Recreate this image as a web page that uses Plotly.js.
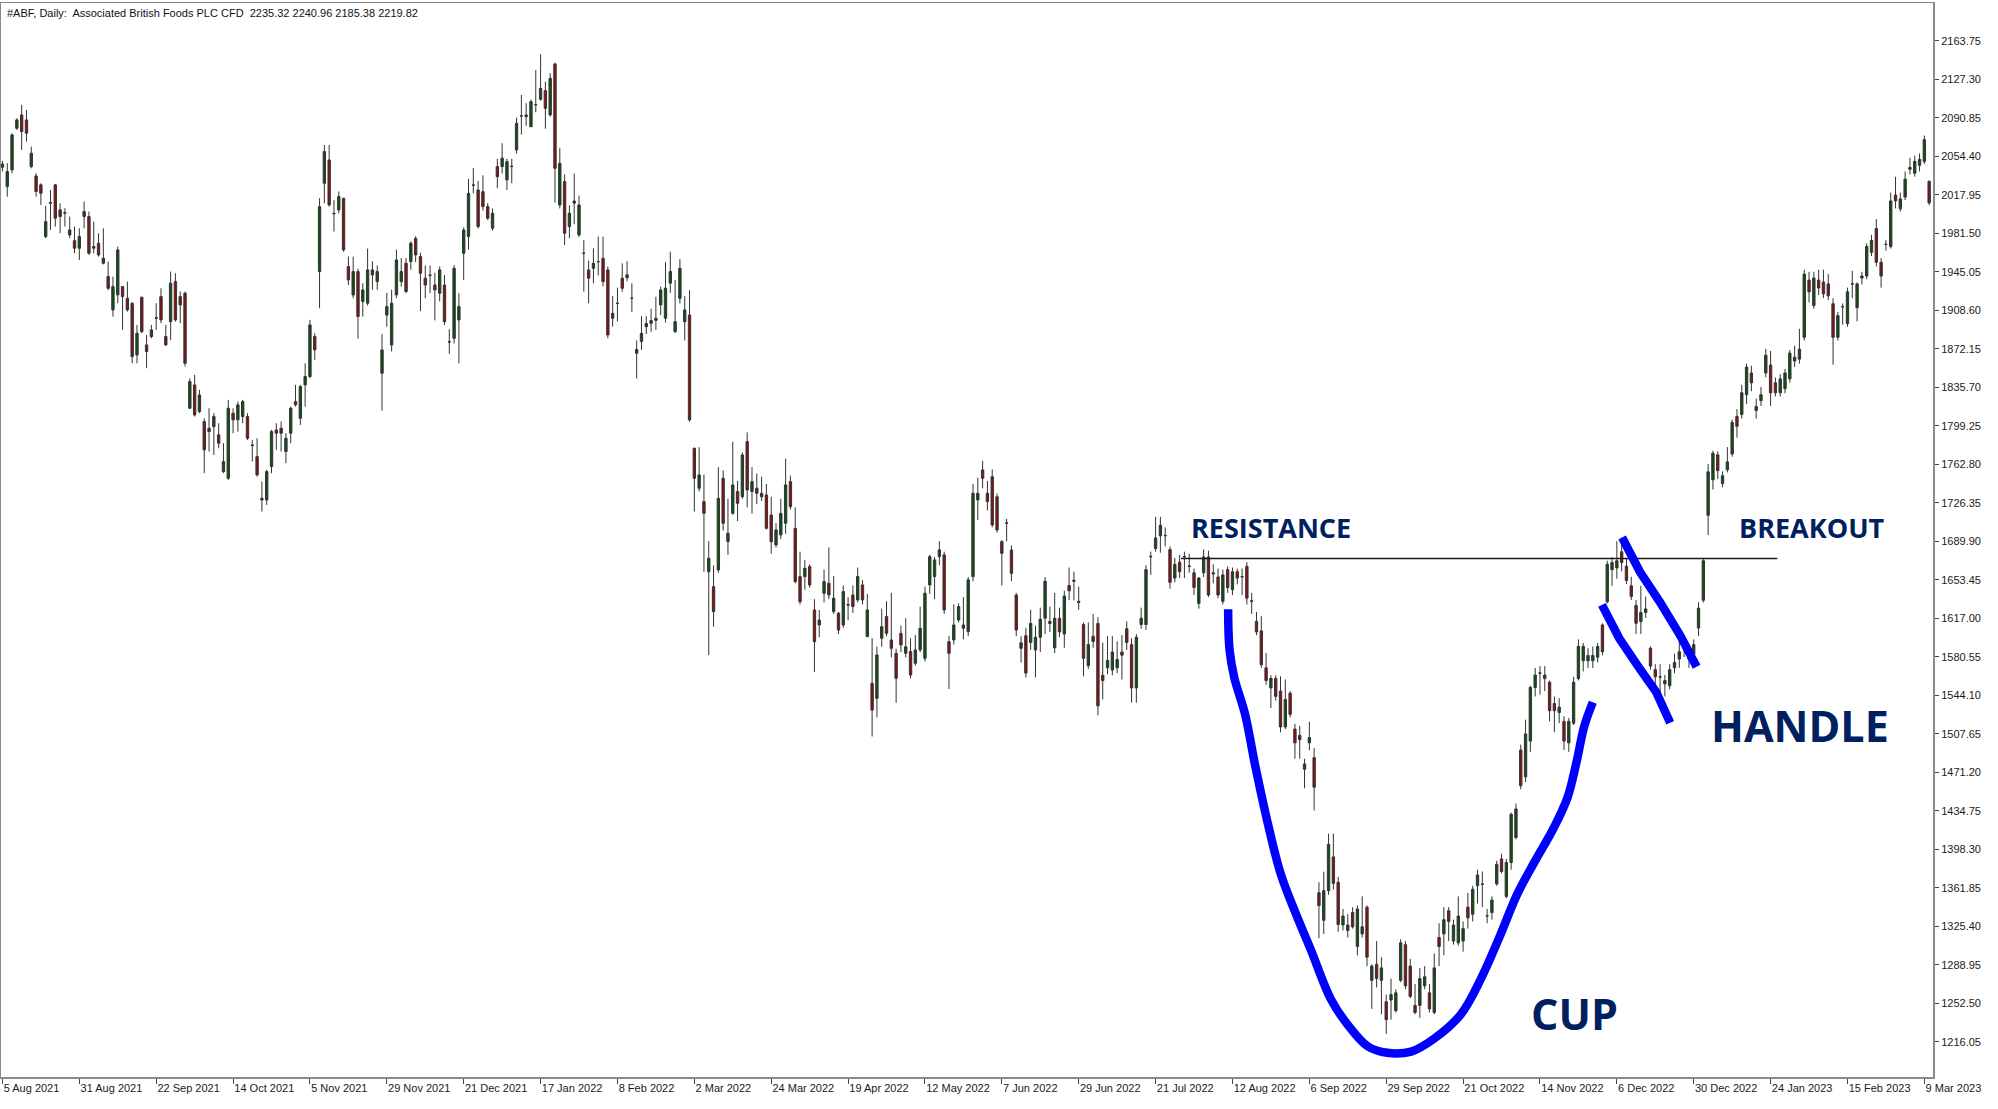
<!DOCTYPE html>
<html><head><meta charset="utf-8">
<script src="https://cdn.plot.ly/plotly-3.0.1.min.js"></script>
<style>html,body{margin:0;padding:0;background:#fff;}#chart{width:1998px;height:1109px;}</style>
</head><body><div id="chart"></div>
<script>
// ---- OHLC values (daily bars, Aug 2021 – Mar 2023) ----
const opens = [
2044,2025.7,2041.5,2080.9,2093.5,2088.8,2044.6,2035.8,2027.3,1978.3,
2009.9,2027.3,2003.6,2000.4,1984.6,1974.5,1967.3,1997.3,1997.3,1968.9,
1972.0,1953.1,1940.5,1908.9,1923.1,1931.0,1920.0,1915.2,1866.3,1920.9,
1875.8,1883.7,1901.0,1921.5,1883.7,1897.9,1935.7,1921.5,1924.7,1815.8,
1837.9,1812.6,1803.2,1796.9,1798.4,1790.6,1755.8,1749.5,1811.1,1804.8,
1807.9,1807.9,1781.1,1770.0,1730.5,1729.0,1760.6,1795.3,1796.9,1774.8,
1792.2,1822.1,1806.3,1837.9,1845.8,1883.7,1945.2,2028.8,2050.9,2000.4,
2003.6,2014.6,1949.9,1923.1,1945.2,1916.8,1915.2,1946.8,1935.7,1848.9,
1904.1,1875.7,1923.1,1935.7,1953.1,1954.7,1976.7,1959.4,1938.9,1942.0,
1932.5,1924.7,1932.5,1878.9,1882.0,1899.4,1962.5,1978.3,2027.2,2022.5,
2020.9,2006.7,1986.2,2044.6,2044.6,2032.0,2044.6,2060.4,2092.5,2093.5,
2082.4,2103.0,2108.3,2116.5,2093.5,2141.8,2008.3,2030.4,1987.8,2012.0,
1979.9,1962.5,1946.8,1948.3,1954.6,1957.8,1946.8,1901.0,1915.0,1938.9,
1939.4,1919.9,1867.9,1878.9,1893.0,1898.8,1899.0,1913.6,1901.0,1934.2,
1888.4,1919.9,1897.8,1904.1,1777.9,1740.0,1727.4,1661.0,1646.9,1662.7,
1749.5,1689.5,1716.3,1736.9,1732.1,1784.2,1736.9,1740.0,1735.3,1733.7,
1714.7,1686.4,1695.8,1706.9,1746.3,1702.1,1656.4,1656.4,1665.9,1624.8,
1610.6,1640.6,1650.1,1623.2,1621.7,1610.6,1630.0,1639.0,1634.3,1648.5,
1599.6,1555.4,1541.2,1598.0,1618.5,1596.4,1583.8,1602.7,1583.8,1585.4,
1574.3,1587.0,1579.0,1648.5,1656.4,1675.3,1676.9,1594.8,1596.4,1615.3,
1610.6,1604.3,1656.4,1729.0,1757.4,1735.3,1751.0,1732.0,1689.5,1707.0,
1681.6,1639.0,1588.5,1600.4,1594,1587,1599,1617,1614,1589,
1617,1602,1648,1653,1633,1611,1572,1600,1612,1563,
1570,1568,1570,1585,1607,1592,1551,1611,1611,1675,
1683,1695,1695,1682,1655,1670,1675,1666,1660,1631,
1660,1675,1660,1656,1633,1663,1644,1661,1656,1666,
1633,1614,1605,1570,1551,1560,1548,1514,1546,1512,
1506,1474,1499,1485,1357,1331,1359,1391,1367,1326.5,
1321.4,1338.3,1306.2,1318.1,1343.4,1274.1,1289.3,1274.1,1253.8,1255.5,
1245.4,1274.1,1307.9,1287.6,1250.4,1250.4,1269,1262.3,1243.7,1314.7,
1318.1,1340,1311.3,1309.6,1311.3,1343.4,1336.7,1363.7,1365.4,1335,
1338.3,1365.4,1389.1,1353.6,1385.7,1409.4,1492.2,1466.8,1500.7,1551.4,
1564.9,1563.2,1556.4,1536.2,1527.7,1519.3,1499,1517.6,1559.8,1576.7,
1576.7,1576.7,1580.1,1610.6,1632.5,1663,1664.6,1679.9,1666.3,1647.7,
1629.1,1613.9,1622.4,1588.6,1568.3,1561.5,1558.1,1553.1,1570,1578.4,
1592,1578.4,1583,1607.7,1634,1714.4,1748.1,1771.7,1744.4,1757.5,
1772.5,1808,1809.9,1828.6,1849.2,1817.4,1823,1849.2,1856.7,1839.9,
1830.5,1834.3,1843.6,1864.2,1862.3,1883,1937.2,1913,1937.2,1935.3,
1933.5,1914.7,1883,1911.8,1896,1933.5,1911,1939.1,1941,1963.4,
1985.9,1954,1970.9,1969,2017.7,2004.6,2015.8,2043.9,2038.3,2045.8,
2049.5,2030.8];
const highs = [
2050,2047.8,2076.2,2090.4,2103.0,2098.3,2063.5,2038.3,2028.8,2007.4,
2022.5,2028.0,2009.9,2005.2,1997.3,1987.8,1986.2,2011.5,2002.0,1992.5,
1981.5,1986.2,1954.7,1940.5,1968.9,1931.5,1935.7,1916.0,1894.7,1921.5,
1885.2,1894.7,1915.2,1929.4,1894.7,1945.2,1943.6,1926.3,1926.3,1844.2,
1847.4,1833.2,1806.3,1815.8,1811.1,1801.6,1782.7,1823.7,1815.8,1822.1,
1823.7,1811.1,1785.8,1787.4,1746.4,1757.4,1795.3,1801.6,1803.2,1792.2,
1817.4,1837.9,1837.9,1858.4,1899.4,1886.8,2014.6,2065.1,2065.1,2013.1,
2021.0,2015.0,1959.4,1959.4,1948.0,1934.2,1967.0,1955.0,1951.0,1886.0,
1925.0,1928.0,1966.0,1958.0,1958.0,1974.0,1978.5,1963.0,1951.0,1951.0,
1944.0,1950.0,1942.0,1890.6,1951.4,1924.7,1987.0,2033.0,2043.3,2031.0,
2036.4,2010.0,2005.0,2052.0,2066.7,2052.0,2052.0,2091.0,2112.4,2104.6,
2108.0,2136.1,2151.0,2125.0,2133.0,2143.0,2062.3,2037.3,2008.0,2038.0,
2017.1,1975.0,1955.5,1967.2,1978.3,1978.3,1950.0,1922.0,1930.0,1953.0,
1955.0,1934.0,1880.0,1903.0,1903.0,1910.0,1921.4,1931.0,1954.0,1964.0,
1937.3,1957.0,1922.0,1927.6,1778.5,1778.9,1753.0,1690.0,1667.0,1760.0,
1757.0,1730.0,1784.0,1747.0,1774.0,1793.0,1760.0,1754.0,1751.0,1744.0,
1732.0,1707.0,1730.0,1768.0,1752.0,1722.0,1680.0,1672.0,1668.0,1635.0,
1624.8,1663.0,1684.0,1657.0,1623.0,1648.0,1637.0,1648.0,1665.0,1653.0,
1640.0,1598.0,1590.0,1626.0,1633.0,1641.0,1588.0,1610.0,1617.0,1598.0,
1601.0,1628.0,1647.0,1677.0,1675.0,1690.0,1680.0,1600.0,1630.0,1631.0,
1637.0,1656.0,1744.0,1750.0,1766.0,1747.0,1758.0,1735.0,1691.0,1711.0,
1686.0,1641.0,1600,1608,1625,1610,1627,1656,1628,1641,
1627,1643,1665,1661,1647,1613,1613,1621,1618,1594,
1600,1600,1595,1601,1614,1598,1602,1627,1667,1680,
1713,1713,1703,1685,1674,1677,1680,1678,1664,1656,
1682,1681,1668,1664,1663,1666,1665,1664,1664,1670,
1641,1623,1619,1584,1563,1563,1562,1559,1548,1517,
1515,1484,1519,1494,1367,1377,1413,1413,1372,1341.7,
1336.7,1343.4,1345.1,1353.6,1345.1,1289.3,1311.3,1296.1,1260.6,1275.8,
1265.7,1313,1311.3,1294.4,1270.7,1285.9,1287.6,1270.7,1299.5,1328.2,
1343.4,1343.4,1331.6,1353.6,1329.9,1357,1363.7,1378.9,1377.2,1341.7,
1353.6,1387.4,1394.1,1389.1,1433,1441.5,1497.3,1520.9,1553.1,1570,
1571.7,1571.7,1558.1,1542.9,1541.2,1524.3,1522.6,1561.5,1597,1593.6,
1588.6,1590.3,1593.6,1612.2,1671.4,1674.8,1690,1693.4,1673.1,1656.2,
1634.2,1647.7,1637.6,1590.3,1573.4,1573.4,1563.2,1573.4,1583.5,1595.3,
1597,1592,1597,1632.1,1673,1763.1,1775.5,1775,1756,1779,
1805,1815,1838,1858,1856,1825,1836,1872,1870,1845,
1848,1853,1871,1875,1891,1947,1945,1945,1947,1947,
1943,1920,1907,1915,1930,1946,1935,1945,1972,1980,
1995,1958,1975,2020,2035,2020,2040,2053,2055,2057,
2074,2031];
const lows = [
2040,2016.2,2038.3,2079.3,2060.4,2068.3,2043.0,2016.2,2008.3,1977.0,
1984.6,1987.8,1981.5,1987.8,1976.8,1962.5,1956.2,1986.2,1961.0,1962.5,
1959.4,1952.0,1927.6,1902.6,1915.2,1890.0,1907.3,1858.4,1858.4,1886.8,
1853.7,1882.1,1890.0,1896.3,1875.0,1880.5,1897.9,1896.3,1855.3,1815.0,
1807.9,1811.1,1754.3,1774.8,1771.6,1777.9,1754.3,1748.0,1792.2,1793.7,
1801.6,1785.8,1765.3,1751.1,1718.0,1724.3,1754.3,1776.4,1774.8,1763.7,
1782.7,1817.4,1800.0,1817.4,1844.2,1861.6,1910.5,2009.9,2006.7,1983.1,
2000.4,1964.0,1932.5,1920.0,1881.7,1902.6,1913.0,1928.0,1928.0,1813.6,
1893.0,1869.5,1920.0,1931.0,1924.7,1947.0,1954.0,1907.7,1919.9,1924.7,
1899.0,1917.0,1894.6,1867.3,1877.0,1858.4,1937.3,1966.0,2019.3,1986.0,
2003.0,1994.0,1984.0,2024.1,2038.0,2022.5,2028.8,2057.0,2075.0,2083.0,
2082.0,2096.0,2107.0,2080.4,2092.0,2010.5,2005.0,1970.4,1976.8,1990.0,
1978.0,1926.3,1915.2,1934.2,1941.6,1931.0,1882.0,1893.0,1898.0,1926.0,
1936.0,1907.0,1844.0,1871.0,1886.0,1888.0,1890.0,1904.0,1897.0,1925.0,
1887.0,1915.0,1880.0,1803.0,1718.0,1737.0,1661.0,1582.0,1609.0,1660.0,
1700.0,1677.0,1715.0,1709.0,1730.0,1722.0,1716.0,1725.0,1728.0,1701.0,
1678.0,1684.0,1692.0,1697.0,1720.0,1650.0,1630.0,1644.0,1646.0,1566.0,
1599.0,1632.0,1635.0,1621.0,1602.0,1608.0,1615.0,1622.0,1632.0,1630.0,
1599.0,1505.0,1523.0,1590.0,1600.0,1580.0,1537.0,1585.0,1580.0,1560.0,
1572.0,1585.0,1576.0,1640.0,1635.0,1667.0,1621.0,1550.0,1592.0,1613.0,
1597.0,1600.0,1652.0,1710.0,1740.0,1719.0,1703.0,1698.0,1648.0,1690.0,
1652.0,1600.0,1575,1561,1587,1561,1585,1602,1604,1584,
1599,1589,1634,1634,1625,1562,1569,1589,1525,1540,
1564,1563,1565,1559,1587,1537,1537,1607,1606,1658,
1680,1679,1685,1645,1651,1655,1655,1660,1639,1626,
1656,1637,1650,1636,1630,1641,1639,1649,1639,1630,
1621,1601,1570,1554,1532,1539,1509,1512,1523,1484,
1484,1456,1492,1435,1314,1318,1355,1360,1320,1321.4,
1314.7,1323.1,1297.8,1314.7,1287.6,1247.1,1267.4,1242,1223.4,1236.9,
1243.7,1272.4,1265.7,1257.2,1242,1238.6,1265.7,1243.7,1242,1287.6,
1297.8,1311.3,1307.9,1307,1301.2,1323.1,1329.9,1346.8,1343.4,1328.2,
1331.6,1363.7,1375.5,1351.9,1378.9,1407.7,1455,1461.8,1490.5,1542.9,
1544.6,1548,1519.3,1509.1,1517.6,1492.2,1490.5,1515.9,1558.1,1566.6,
1570,1570,1575,1581.8,1630.8,1647.7,1654.5,1661.3,1649.4,1634.2,
1602.1,1602.1,1617.3,1568.3,1553.1,1546.3,1542.9,1549.7,1564.9,1570,
1580.1,1570,1578,1600.2,1632,1695.7,1738.8,1749,1741,1755,
1770,1788,1806,1820,1832,1806,1818,1845,1818,1827,
1827,1830,1840,1855,1858,1880,1916,1910,1923,1920,
1918,1857,1880,1895,1893,1920,1898,1933,1938,1960,
1950,1930,1965,1967,2005,2002,2013,2037,2035,2040,
2047,2008];
const closes = [
2047,2039.9,2074.6,2088.8,2077.8,2076.2,2057.2,2021.0,2019.4,1992.5,
2010.5,1995.7,1997.3,2000.9,1979.9,1967.3,1978.3,2002.0,1962.5,1967.3,
1961.0,1957.8,1929.4,1931.0,1965.7,1921.5,1908.9,1864.7,1886.8,1888.4,
1869.5,1890.0,1901.5,1899.4,1875.8,1934.2,1899.4,1913.6,1858.4,1841.1,
1809.5,1828.4,1776.4,1793.7,1807.9,1782.7,1765.3,1815.8,1804.8,1819.0,
1822.1,1787.4,1780.5,1752.7,1729.0,1755.8,1793.7,1792.2,1792.2,1787.4,
1815.8,1819.0,1836.3,1845.8,1894.7,1871.1,2006.7,2058.8,2008.3,2000.0,
2016.2,1965.7,1937.3,1945.2,1902.6,1927.8,1946.8,1942.0,1945.2,1871.0,
1912.0,1915.2,1956.2,1945.2,1926.3,1972.0,1961.0,1943.6,1932.5,1941.6,
1927.8,1946.8,1897.8,1878.5,1948.3,1912.0,1984.6,2019.3,2027.0,1987.8,
2006.7,1995.7,2000.4,2035.1,2052.5,2049.3,2044.9,2085.6,2092.6,2092.0,
2106.1,2103.2,2118.7,2099.8,2128.2,2043.0,2047.7,1981.5,2000.4,2010.0,
2008.3,1962.6,1938.9,1953.0,1954.7,1935.7,1885.2,1905.7,1915.2,1929.4,
1942.1,1920.0,1871.5,1886.7,1896.0,1896.2,1901.0,1927.8,1929.4,1945.2,
1897.8,1948.3,1908.9,1804.8,1749.5,1752.6,1716.3,1673.7,1623.2,1730.5,
1706.9,1697.4,1743.2,1725.8,1771.6,1738.4,1746.3,1735.3,1732.0,1702.1,
1689.5,1700.6,1716.3,1743.2,1722.6,1651.7,1632.7,1664.3,1648.5,1594.8,
1615.3,1651.7,1639.0,1635.9,1605.8,1642.2,1629.5,1628.0,1656.4,1634.3,
1624.8,1530.0,1582.2,1609.0,1602.7,1588.5,1560.1,1591.7,1590.0,1563.3,
1587.0,1607.5,1640.6,1675.3,1672.2,1681.7,1624.8,1583.8,1610.6,1628.0,
1607.5,1653.3,1735.3,1735.3,1749.5,1727.4,1705.3,1700.6,1678.4,1707.2,
1659.5,1605.8,1593.7,1565.1,1612,1599,1616,1652,1612,1617,
1604,1638,1643,1652,1632,1579,1592,1595,1534,1558,
1577,1585,1578,1582,1594,1551,1599,1617,1663,1675.5,
1693,1705,1695.4,1651,1668,1661,1675.4,1666.4,1646,1655,
1675,1639,1659,1639,1658,1646,1661,1655,1656.4,1636,
1633.4,1604,1573,1558,1560,1543,1514,1540,1526,1499,
1502,1479,1504,1457,1345,1359,1403,1366,1327,1335,
1326.5,1324.8,1341.7,1324.8,1296.1,1287.6,1275.8,1285.9,1236.9,1260.6,
1262.3,1309.6,1269,1258.9,1243.7,1275.8,1277.5,1247.1,1285.9,1306.2,
1331.6,1329.9,1326.5,1335,1323.1,1333.3,1360.3,1373.9,1365,1335.3,
1350.2,1384,1377.2,1385.7,1431.3,1436.4,1458.4,1507.4,1551.4,1563.2,
1565.2,1559.8,1529.4,1529.4,1532.8,1500.7,1519.3,1556.4,1590.3,1590.3,
1581.8,1581.8,1590.3,1585.2,1668,1669.7,1671.4,1669.7,1652.8,1637.6,
1612.2,1622.4,1625.8,1571.7,1561.5,1561.3,1554.8,1568.3,1575,1585.2,
1588.6,1586.9,1592,1626.5,1671.4,1755.6,1773.2,1756.7,1751.9,1765,
1802.4,1798.7,1830.5,1854.8,1839.9,1813.7,1828.6,1866,1830.5,1830.5,
1843.6,1849.2,1868,1860.5,1871.7,1942.8,1926,1939.1,1929.7,1924.1,
1922.2,1883,1903.5,1911.9,1926,1933.6,1933.5,1941,1969,1974.6,
1954,1941,1971,2012.1,2012.1,2014,2032.7,2042,2049.5,2051.4,
2070.1,2010.2];

// ---- axis labels ----
const xTickLabels = ["5 Aug 2021","31 Aug 2021","22 Sep 2021","14 Oct 2021","5 Nov 2021","29 Nov 2021",
  "21 Dec 2021","17 Jan 2022","8 Feb 2022","2 Mar 2022","24 Mar 2022","19 Apr 2022","12 May 2022",
  "7 Jun 2022","29 Jun 2022","21 Jul 2022","12 Aug 2022","6 Sep 2022","29 Sep 2022","21 Oct 2022",
  "14 Nov 2022","6 Dec 2022","30 Dec 2022","24 Jan 2023","15 Feb 2023","9 Mar 2023"];
const barsPerXLabel = 16;
const yTickLabels = ["1216.05","1252.50","1288.95","1325.40","1361.85","1398.30","1434.75","1471.20",
  "1507.65","1544.10","1580.55","1617.00","1653.45","1689.90","1726.35","1762.80","1799.25","1835.70",
  "1872.15","1908.60","1945.05","1981.50","2017.95","2054.40","2090.85","2127.30","2163.75"];

// ---- hand-drawn annotations (bar index, price) ----
const resistanceLevel = 1673.5;
const resistanceFromBar = 245.3, resistanceToBar = 369.4;
const cupX = [255.1,255.4,256.4,258.6,260.7,263.3,266.0,269.1,272.3,276.5,280.0,284.2,288.2,293.2,297.9,303.5,307.7,311.7,315.2,318.9,322.8,325.7,327.6,329.2,331.0];
const cupY = [1625.5,1586.9,1560.3,1526.5,1478.2,1423.9,1375.6,1338.2,1303.2,1256.1,1232.0,1211.5,1205.5,1206.7,1218.7,1241.7,1275.5,1316.5,1355.1,1386.5,1417.9,1446.8,1480.6,1514.4,1537.4];
const handleUpperX = [337.1,340.8,345.0,349.2,352.6];
const handleUpperY = [1693.4,1661.0,1632.0,1600.5,1571.0];
const handleLowerX = [332.9,336.5,340.5,344.2,347.1];
const handleLowerY = [1629.6,1598.0,1571.0,1547.0,1518.1];
const headerText = "#ABF, Daily:  Associated British Foods PLC CFD  2235.32 2240.96 2185.38 2219.82";

const barIndex = opens.map((_, i) => i);
const xTickVals = xTickLabels.map((_, i) => i * barsPerXLabel);
const yTickVals = yTickLabels.map(Number);

const blue = '#0000ff';
const traces = [
  {type:'candlestick', x:barIndex, open:opens, high:highs, low:lows, close:closes,
   increasing:{line:{color:'#333333', width:1}, fillcolor:'#0b5212'},
   decreasing:{line:{color:'#333333', width:1}, fillcolor:'#8c1010'},
   whiskerwidth:0, hoverinfo:'skip', showlegend:false},
  {type:'scatter', mode:'lines', x:[resistanceFromBar, resistanceToBar], y:[resistanceLevel, resistanceLevel],
   line:{color:'#1a1a1a', width:1.6}, hoverinfo:'skip', showlegend:false},
  {type:'scatter', mode:'lines', x:cupX, y:cupY, line:{color:blue, width:8.5, shape:'spline', smoothing:1},
   hoverinfo:'skip', showlegend:false},
  {type:'scatter', mode:'lines', x:handleUpperX, y:handleUpperY, line:{color:blue, width:8.5, shape:'linear'},
   hoverinfo:'skip', showlegend:false},
  {type:'scatter', mode:'lines', x:handleLowerX, y:handleLowerY, line:{color:blue, width:8.5, shape:'linear'},
   hoverinfo:'skip', showlegend:false}
];

const tickFont = {family:'Liberation Sans, Arial, sans-serif', size:11, color:'#1a1a1a'};
const labelFont = (s) => ({family:'Open Sans, Noto Sans, sans-serif', size:s, color:'#002060'});
const layout = {
  width:1998, height:1109,
  margin:{l:1, r:65, t:3, b:32, pad:0},
  paper_bgcolor:'#ffffff', plot_bgcolor:'#ffffff',
  showlegend:false,
  xaxis:{range:[-0.3, 401.8], tickmode:'array', tickvals:xTickVals, ticktext:xTickLabels,
         ticks:'outside', ticklen:5, tickcolor:'#444', tickwidth:1,
         ticklabelposition:'outside right', tickfont:tickFont,
         showgrid:false, zeroline:false, showline:true, linecolor:'#8a8a8a', linewidth:1.5, mirror:true,
         rangeslider:{visible:false}, fixedrange:true},
  yaxis:{side:'right', range:[1182.6, 2199.5], tickmode:'array', tickvals:yTickVals, ticktext:yTickLabels,
         ticks:'outside', ticklen:4, tickcolor:'#444', tickwidth:1, tickfont:tickFont,
         showgrid:false, zeroline:false, showline:true, linecolor:'#8a8a8a', linewidth:2, mirror:true,
         fixedrange:true},
  annotations:[
    {xref:'paper', yref:'paper', x:0, y:1, xanchor:'left', yanchor:'top', xshift:4, yshift:-2,
     text:headerText, showarrow:false, font:{family:'Liberation Sans, Arial, sans-serif', size:11, color:'#111'}},
    {x:264.1, y:1702.7, text:'<b>RESISTANCE</b>', showarrow:false, font:labelFont(27), xanchor:'center', yanchor:'middle'},
    {x:376.6, y:1702.7, text:'<b>BREAKOUT</b>', showarrow:false, font:labelFont(27), xanchor:'center', yanchor:'middle'},
    {x:374.2, y:1515.6, text:'<b>HANDLE</b>', showarrow:false, font:labelFont(43), xanchor:'center', yanchor:'middle'},
    {x:327.1, y:1242.9, text:'<b>CUP</b>', showarrow:false, font:labelFont(43), xanchor:'center', yanchor:'middle'}
  ]
};
Plotly.newPlot('chart', traces, layout, {displayModeBar:false, staticPlot:true});
</script>
</body></html>
